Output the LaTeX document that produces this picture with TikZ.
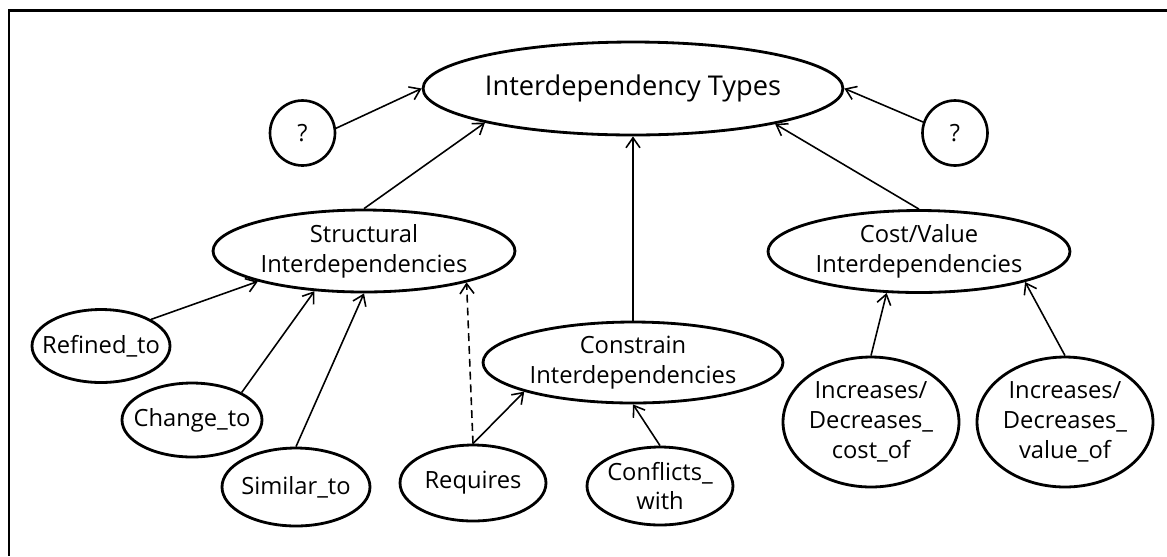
\documentclass[tikz,border=0pt]{standalone}
\usepackage{fontspec}
\setmainfont{Open Sans}
\usetikzlibrary{shapes.geometric,arrows.meta}

\begin{document}
\begin{tikzpicture}[x=0.02cm,y=-0.02cm,
  oval/.style={ellipse, draw, line width=1.6pt, inner sep=-3mm, align=center,
    font=\fontsize{13.5}{17}\selectfont},
  topoval/.style={oval, minimum width=8.4cm, minimum height=1.86cm,
    font=\fontsize{15.5}{19}\selectfont},
  groupoval/.style={oval, minimum width=6.04cm, minimum height=1.64cm},
  leafoval/.style={oval, minimum width=2.92cm, minimum height=1.52cm},
  tallleaf/.style={oval, minimum width=3.52cm, minimum height=2.6cm},
  unknown/.style={circle, draw, line width=1.5pt, minimum size=1.3cm, inner sep=0pt,
    font=\fontsize{13.5}{17}\selectfont},
  link/.style={line width=0.9pt, -{Straight Barb[length=2mm,width=2.8mm]}},
  weaklink/.style={link, dash pattern=on 4.5pt off 2.8pt}
]
\useasboundingbox (0,0) rectangle (1167,556);
% frame
\draw[line width=1.7pt] (1167,10) -- (9,10) -- (9,556);

% nodes
\node[topoval] (types) at (633,88.5) {Interdependency Types};
\node[unknown] (q1) at (302.5,133) {?};
\node[unknown] (q2) at (955,133) {?};

\node[groupoval] (struct) at (364,251) {Structural\\Interdependencies};
\node[groupoval, minimum width=6cm, minimum height=1.62cm] (constr) at (633,362.5) {Constrain\\Interdependencies};
\node[groupoval] (cost) at (919,251.5) {Cost/Value\\Interdependencies};

\node[leafoval, minimum width=2.76cm, minimum height=1.46cm] (refined) at (101,346) {Refined\_to};
\node[leafoval, minimum width=2.8cm, minimum height=1.48cm] (change) at (192,420) {Change\_to};
\node[leafoval, minimum width=2.96cm, minimum height=1.56cm] (similar) at (296,487) {Similar\_to};
\node[leafoval] (requires) at (473,483) {Requires};
\node[leafoval, minimum height=1.56cm] (conflicts) at (660,486) {Conflicts\_\\with};

\node[tallleaf] (inccost) at (871,422) {Increases/\\Decreases\_\\cost\_of};
\node[tallleaf] (incval) at (1065,422) {Increases/\\Decreases\_\\value\_of};

% connectors
\draw[link] (q1.8) -- (types.west);
\draw[link] (q2.161) -- (types.east);
\draw[link] (struct.north) -- (types.193.5);
\draw[link] (constr.north) -- (types.south);
\draw[link] (cost.north) -- (types.346.5);

\draw[link] (refined.28) -- (struct.196);
\draw[link] (change.29) -- (struct.219.5);
\draw[link] (similar.north) -- (struct.south);
\draw[weaklink] (requires.north) -- (struct.343.7);

\draw[link] (requires.north) -- (constr.195.8);
\draw[link] (conflicts.north) -- (constr.south);

\draw[link] (inccost.north) -- (cost.232);
\draw[link] (incval.north) -- (cost.344);
\end{tikzpicture}
\end{document}
